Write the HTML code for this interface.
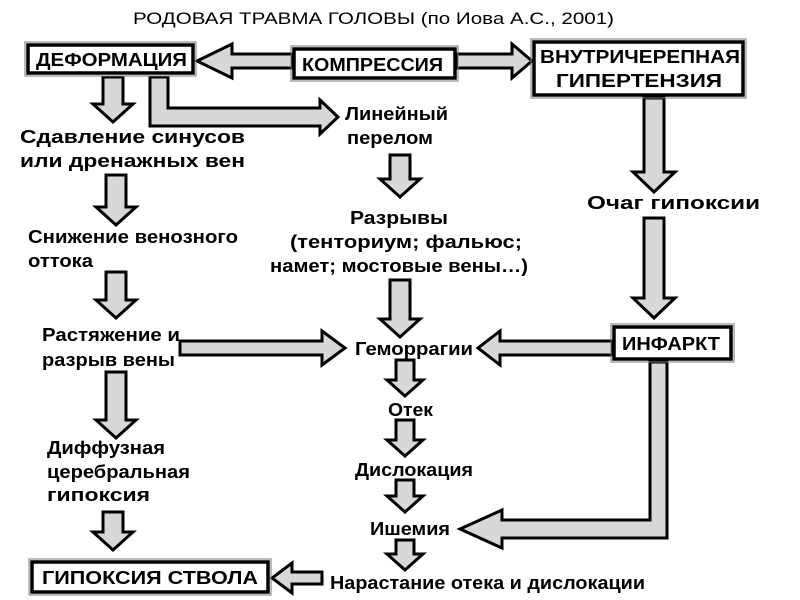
<!DOCTYPE html>
<html><head><meta charset="utf-8"><style>
html,body{margin:0;padding:0;background:#fff;}
svg{display:block;}
text{font-family:"Liberation Sans",sans-serif;font-weight:bold;fill:#000;}
.a{fill:#d8d8d8;stroke:#000;stroke-width:3;stroke-linejoin:miter;}
.b{fill:#fff;stroke:#000;stroke-width:3.5;}
.o{fill:none;stroke:#777;stroke-width:1;}
</style></head><body>
<svg width="800" height="600" viewBox="0 0 800 600">
<text x="133" y="24" font-size="17" textLength="481" lengthAdjust="spacingAndGlyphs" style="font-weight:normal">РОДОВАЯ ТРАВМА ГОЛОВЫ (по Иова А.С., 2001)</text>

<polygon class="a" points="292,54 232,54 232,44 197,61 232,78 232,68 292,68"/>
<polygon class="a" points="457,54 512,54 512,44 532,61 512,78 512,68 457,68"/>
<polygon class="a" points="103,77 123,77 123,104 133,104 113,122 93,104 103,104"/>
<polygon class="a" points="150,77 168,77 168,108 320,108 320,100 338,117 320,134 320,126 150,126"/>
<polygon class="a" points="390,155 410,155 410,179 420,179 400,197 380,179 390,179"/>
<polygon class="a" points="106,175 126,175 126,207 136,207 116,225 96,207 106,207"/>
<polygon class="a" points="106,272 126,272 126,300 136,300 116,318 96,300 106,300"/>
<polygon class="a" points="390,280 410,280 410,319 420,319 400,337 380,319 390,319"/>
<polygon class="a" points="106,372 126,372 126,420 136,420 116,438 96,420 106,420"/>
<polygon class="a" points="103,512 123,512 123,532 133,532 113,550 93,532 103,532"/>
<polygon class="a" points="396,360 414,360 414,380 423,380 405,396 387,380 396,380"/>
<polygon class="a" points="396,420 414,420 414,440 423,440 405,456 387,440 396,440"/>
<polygon class="a" points="396,480 414,480 414,496 423,496 405,512 387,496 396,496"/>
<polygon class="a" points="396,540 414,540 414,554 423,554 405,570 387,554 396,554"/>
<polygon class="a" points="644,98 664,98 664,172 675,172 654,192 633,172 644,172"/>
<polygon class="a" points="644,218 664,218 664,298 675,298 654,318 633,298 644,298"/>
<polygon class="a" points="180,341 322,341 322,331 345,348 322,365 322,355 180,355"/>
<polygon class="a" points="612,341 500,341 500,331 478,348 500,365 500,355 612,355"/>
<polygon class="a" points="650,362 667,362 667,538 502,538 502,548 460,529 502,510 502,520 650,520"/>
<polygon class="a" points="322,572 292,572 292,563 272,578 292,593 292,584 322,584"/>

<rect class="o" x="25" y="42" width="171" height="34"/><rect class="b" x="28" y="45" width="165" height="28"/>
<text x="36" y="66" font-size="18" textLength="151" lengthAdjust="spacingAndGlyphs">ДЕФОРМАЦИЯ</text>
<rect class="o" x="291" y="46" width="167" height="35"/><rect class="b" x="294" y="49" width="161" height="29"/>
<text x="302" y="71" font-size="18" textLength="141" lengthAdjust="spacingAndGlyphs">КОМПРЕССИЯ</text>
<rect class="o" x="531" y="39" width="215" height="59"/><rect class="b" x="534" y="42" width="209" height="53"/>
<text x="540" y="63" font-size="18" textLength="200" lengthAdjust="spacingAndGlyphs">ВНУТРИЧЕРЕПНАЯ</text>
<text x="556" y="87" font-size="18" textLength="166" lengthAdjust="spacingAndGlyphs">ГИПЕРТЕНЗИЯ</text>
<rect class="o" x="611" y="324" width="123" height="38"/><rect class="b" x="614" y="327" width="117" height="32"/>
<text x="622" y="350" font-size="18" textLength="98" lengthAdjust="spacingAndGlyphs">ИНФАРКТ</text>
<rect class="o" x="29" y="559" width="242" height="36"/><rect class="b" x="32" y="562" width="236" height="30"/>
<text x="42" y="584" font-size="18" textLength="216" lengthAdjust="spacingAndGlyphs">ГИПОКСИЯ СТВОЛА</text>

<g font-size="18">
<text x="20" y="143" textLength="225" lengthAdjust="spacingAndGlyphs">Сдавление синусов</text>
<text x="20" y="167" textLength="225" lengthAdjust="spacingAndGlyphs">или дренажных вен</text>
<text x="345" y="120" textLength="103" lengthAdjust="spacingAndGlyphs">Линейный</text>
<text x="347" y="144" textLength="86" lengthAdjust="spacingAndGlyphs">перелом</text>
<text x="350" y="224" textLength="98" lengthAdjust="spacingAndGlyphs">Разрывы</text>
<text x="290" y="248" textLength="232" lengthAdjust="spacingAndGlyphs">(тенториум; фальюс;</text>
<text x="270" y="272" textLength="258" lengthAdjust="spacingAndGlyphs">намет; мостовые вены…)</text>
<text x="28" y="243" textLength="210" lengthAdjust="spacingAndGlyphs">Снижение венозного</text>
<text x="28" y="267" textLength="65" lengthAdjust="spacingAndGlyphs">оттока</text>
<text x="42" y="341" textLength="138" lengthAdjust="spacingAndGlyphs">Растяжение и</text>
<text x="42" y="366" textLength="133" lengthAdjust="spacingAndGlyphs">разрыв вены</text>
<text x="355" y="355" textLength="118" lengthAdjust="spacingAndGlyphs">Геморрагии</text>
<text x="388" y="416" textLength="45" lengthAdjust="spacingAndGlyphs">Отек</text>
<text x="355" y="476" textLength="118" lengthAdjust="spacingAndGlyphs">Дислокация</text>
<text x="370" y="535" textLength="80" lengthAdjust="spacingAndGlyphs">Ишемия</text>
<text x="330" y="589" textLength="315" lengthAdjust="spacingAndGlyphs">Нарастание отека и дислокации</text>
<text x="47" y="454" textLength="118" lengthAdjust="spacingAndGlyphs">Диффузная</text>
<text x="47" y="478" textLength="143" lengthAdjust="spacingAndGlyphs">церебральная</text>
<text x="47" y="501" textLength="103" lengthAdjust="spacingAndGlyphs">гипоксия</text>
<text x="587" y="209" textLength="173" lengthAdjust="spacingAndGlyphs">Очаг гипоксии</text>
</g>
</svg>
</body></html>
